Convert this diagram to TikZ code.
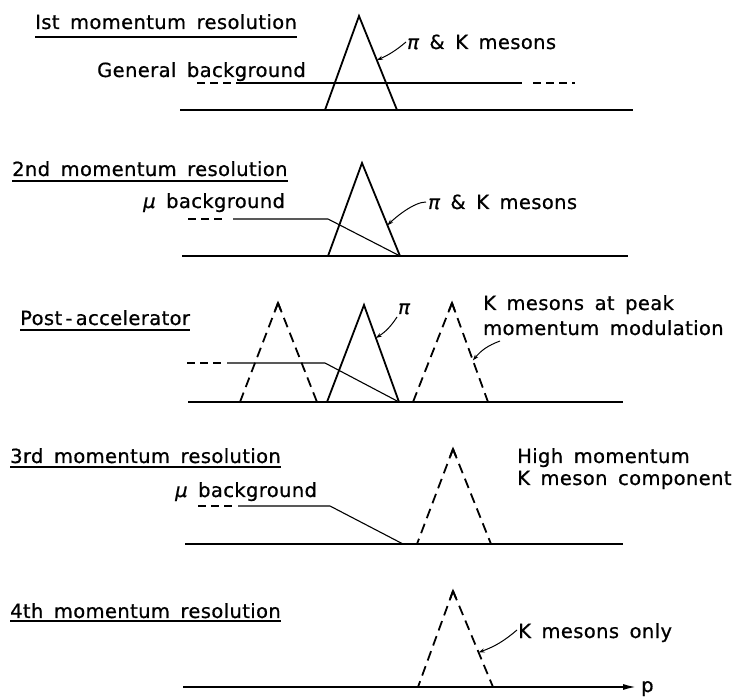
\documentclass[tikz,border=0pt]{standalone}
\usepackage{fontspec}
\newfontfamily\lettering[LetterSpace=2,WordSpace=1.6,FakeBold=0.8]{DejaVu Sans}
\usetikzlibrary{calc,arrows.meta}
\newcommand{\gpi}{{\itshape π}}
\newcommand{\gmu}{{\itshape μ}}
\begin{document}
\begin{tikzpicture}[x=1pt,y=-1pt,
  lbl/.style={font=\lettering\fontsize{19.5}{22}\selectfont, inner sep=0pt, anchor=base west},
  axis/.style={line width=2pt},
  peak/.style={line width=1.8pt, line join=miter},
  dpeak/.style={peak, dash pattern=on 10pt off 6pt},
  bg/.style={line width=1.1pt},
  bgdash/.style={line width=1.1pt, dash pattern=on 8pt off 5pt},
  lead/.style={line width=1pt, -{Stealth[length=6pt,width=4pt]}},
  uline/.style={line width=1.3pt}]
\useasboundingbox (0,0) rectangle (737,700);

% ---------- Panel 1 ----------
\node[lbl] (t1) at (35,29) {Ist momentum resolution};
\draw[uline] ($(t1.base west)+(0,8)$) -- ($(t1.base east)+(0,8)$);
\coordinate (a1l) at (180,110); \coordinate (a1r) at (633,110);
\draw[axis] (a1l) -- (a1r);
\coordinate (b1a) at (197,83); \coordinate (b1b) at (231,83);
\coordinate (b1c) at (236,83); \coordinate (b1d) at (522,83);
\coordinate (b1e) at (533,83); \coordinate (b1f) at (575,83);
\draw[bgdash] (b1a) -- (b1b);
\draw[bg] (b1c) -- (b1d);
\draw[bgdash] (b1e) -- (b1f);
\coordinate (p1l) at (325,110); \coordinate (p1t) at (359,16); \coordinate (p1r) at (397,110);
\draw[peak] (p1l) -- (p1t) -- (p1r);
\node[lbl] (g1) at (97,77) {General background};
\node[lbl] (k1) at (407,49) {\gpi\ \& K mesons};
\draw[lead] ($(k1.base west)+(-1,-7)$) to[bend left=8] ($(p1t)!0.47!(p1r)$);

% ---------- Panel 2 ----------
\node[lbl] (t2) at (12,176) {2nd momentum resolution};
\draw[uline] ($(t2.base west)+(0,5)$) -- ($(t2.base east)+(0,5)$);
\coordinate (a2l) at (182,256); \coordinate (a2r) at (628,256);
\draw[axis] (a2l) -- (a2r);
\coordinate (p2l) at (328,256); \coordinate (p2t) at (362,163); \coordinate (p2r) at (400,256);
\draw[peak] (p2l) -- (p2t) -- (p2r);
\coordinate (b2a) at (188,219); \coordinate (b2b) at (222,219);
\coordinate (b2c) at (233,219); \coordinate (b2d) at (328,219);
\draw[bgdash] (b2a) -- (b2b);
\draw[bg] (b2c) -- (b2d) -- (p2r);
\node[lbl] (m2) at (143,208) {\gmu\ background};
\node[lbl] (k2) at (428,209) {\gpi\ \& K mesons};
\draw[lead] ($(k2.base west)+(-2,-7)$) .. controls +(-12,0) and +(8,-8) .. ($(p2t)!0.67!(p2r)$);

% ---------- Panel 3 ----------
\node[lbl] (t3) at (20,325) {Post\,-\,accelerator};
\draw[uline] ($(t3.base west)+(0,5)$) -- ($(t3.base east)+(0,5)$);
\coordinate (a3l) at (188,402); \coordinate (a3r) at (623,402);
\draw[axis] (a3l) -- (a3r);
\coordinate (q3l) at (240,402); \coordinate (q3t) at (278,303); \coordinate (q3r) at (317,402);
\draw[dpeak] (q3t) -- (q3l) (q3t) -- (q3r);
\draw[peak] ($(q3t)!8pt!(q3l)$) -- (q3t) -- ($(q3t)!8pt!(q3r)$);
\coordinate (p3l) at (327,402); \coordinate (p3t) at (364,305); \coordinate (p3r) at (399,402);
\draw[peak] (p3l) -- (p3t) -- (p3r);
\coordinate (r3l) at (413,402); \coordinate (r3t) at (452,303); \coordinate (r3r) at (488,402);
\draw[dpeak] (r3t) -- (r3l) (r3t) -- (r3r);
\draw[peak] ($(r3t)!8pt!(r3l)$) -- (r3t) -- ($(r3t)!8pt!(r3r)$);
\coordinate (b3a) at (187,363); \coordinate (b3b) at (221,363);
\coordinate (b3c) at (227,363); \coordinate (b3d) at (325,363);
\draw[bgdash] (b3a) -- (b3b);
\draw[bg] (b3c) -- (b3d) -- (p3r);
\node[lbl] (pi3) at (398,314) {\gpi};
\draw[lead] ($(pi3.base west)+(-1,3)$) to[bend left=12] ($(p3t)!0.34!(p3r)$);
\node[lbl] (k3a) at (483,310) {K mesons at peak};
\node[lbl] (k3b) at (483,335) {momentum modulation};
\draw[lead] ($(k3b.base west)+(17,6)$) to[bend right=15] ($(r3t)!0.58!(r3r)$);

% ---------- Panel 4 ----------
\node[lbl] (t4) at (10,463) {3rd momentum resolution};
\draw[uline] ($(t4.base west)+(0,4)$) -- ($(t4.base east)+(0,4)$);
\coordinate (a4l) at (185,544); \coordinate (a4r) at (623,544);
\draw[axis] (a4l) -- (a4r);
\coordinate (b4a) at (198,506); \coordinate (b4b) at (232,506);
\coordinate (b4c) at (238,506); \coordinate (b4d) at (330,506);
\coordinate (b4e) at (403,544);
\draw[bgdash] (b4a) -- (b4b);
\draw[bg] (b4c) -- (b4d) -- (b4e);
\coordinate (q4l) at (417,544); \coordinate (q4t) at (453,449); \coordinate (q4r) at (491,544);
\draw[dpeak] (q4t) -- (q4l) (q4t) -- (q4r);
\draw[peak] ($(q4t)!8pt!(q4l)$) -- (q4t) -- ($(q4t)!8pt!(q4r)$);
\node[lbl] (m4) at (175,497) {\gmu\ background};
\node[lbl] (h4a) at (517,463) {High momentum};
\node[lbl] (h4b) at (517,485) {K meson component};

% ---------- Panel 5 ----------
\node[lbl] (t5) at (10,618) {4th momentum resolution};
\draw[uline] ($(t5.base west)+(0,3)$) -- ($(t5.base east)+(0,3)$);
\coordinate (a5l) at (183,687); \coordinate (a5r) at (637,687);
\draw[axis, -{Latex[length=14pt,width=6pt]}] (a5l) -- (a5r);
\node[lbl] (p5) at (641,692) {p};
\coordinate (q5l) at (418,687); \coordinate (q5t) at (453,591); \coordinate (q5r) at (493,687);
\draw[dpeak] (q5t) -- (q5l) (q5t) -- (q5r);
\draw[peak] ($(q5t)!8pt!(q5l)$) -- (q5t) -- ($(q5t)!8pt!(q5r)$);
\node[lbl] (k5) at (518,638) {K mesons only};
\draw[lead] ($(k5.base west)+(-1,-8)$) to[bend left=10] ($(q5t)!0.64!(q5r)$);
\end{tikzpicture}
\end{document}
